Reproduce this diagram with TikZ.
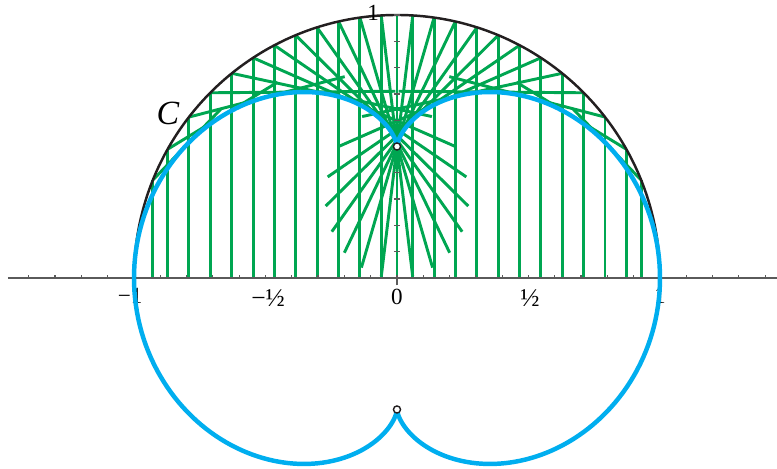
\documentclass[tikz,border=0pt]{standalone}
\usepackage{fontspec}
\setmainfont{Liberation Serif}
\definecolor{raygreen}{RGB}{0,166,81}
\definecolor{causticblue}{RGB}{0,174,239}
\definecolor{mirrorblack}{RGB}{35,31,32}
\definecolor{axisgray}{RGB}{90,90,90}

\begin{document}
\begin{tikzpicture}[scale=3,
    ray/.style={draw=raygreen, line width=0.95pt},
    mirror/.style={draw=mirrorblack, line width=0.8pt},
    caustic/.style={draw=causticblue, line width=1.45pt, line join=round},
    tickmark/.style={draw=axisgray, line width=0.4pt},
    lbl/.style={font=\fontsize{7.5}{9}\selectfont, inner sep=0pt},
    halflbl/.style={font=\fontsize{8.3}{10}\selectfont, inner sep=0pt},
    cusp/.style={circle, draw=mirrorblack, fill=white, line width=0.45pt, inner sep=0pt, minimum size=2.3pt}]
  \useasboundingbox (-1.5095,-0.7262) rectangle (1.4449,1.0570);
  \foreach \x in {-0.928,-0.872,-0.791,-0.71,-0.628,-0.547,-0.466,-0.385,-0.304,-0.222,-0.141,-0.06,0,0.06,0.141,0.222,0.304,0.385,0.466,0.547,0.628,0.71,0.791,0.872,0.928} {
    \draw[ray] (\x,0) -- (\x,{sqrt(1-\x*\x)});
    \draw[ray] (\x,{sqrt(1-\x*\x)}) -- ({2*\x*\x*\x-\x},{2*\x*\x*sqrt(1-\x*\x)});
  }
  \draw[mirror] (1,0) arc[start angle=0, end angle=180, radius=1];
  \draw[tickmark] (-1.48,0) -- (1.45,0);
  \foreach \t in {-1.4,-1.3,...,1.45} \draw[tickmark] (\t,0) -- (\t,0.012);
  \draw[tickmark] (0,-0.028) -- (0,0.012);
  \foreach \t in {0.1,0.2,...,1.0} \draw[tickmark] (-0.012,\t) -- (0.012,\t);
  \node[lbl] (xminusone) at (-1.015,-0.068) {−1};
  \node[halflbl] (xminushalf) at (-0.49,-0.078) {−½};
  \node[lbl] (xzero) at (0,-0.072) {0};
  \node[halflbl] (xhalf) at (0.506,-0.078) {½};
  \node[lbl] (xone) at (1,-0.068) {1};
  \node[lbl] (yone) at (-0.091,1.008) {1};
  \node[font=\fontsize{11}{13}\selectfont\itshape, inner sep=0pt] (curvec) at (-0.871,0.627) {C};
  \draw[caustic] plot[domain=0:360, samples=361] ({sin(\x)*sin(\x)*sin(\x)},{1.5*cos(\x)-cos(\x)*cos(\x)*cos(\x)}) -- cycle;
  \node[cusp] (cusptop) at (0,0.5) {};
  \node[cusp] (cuspbottom) at (0,-0.5) {};
\end{tikzpicture}
\end{document}
